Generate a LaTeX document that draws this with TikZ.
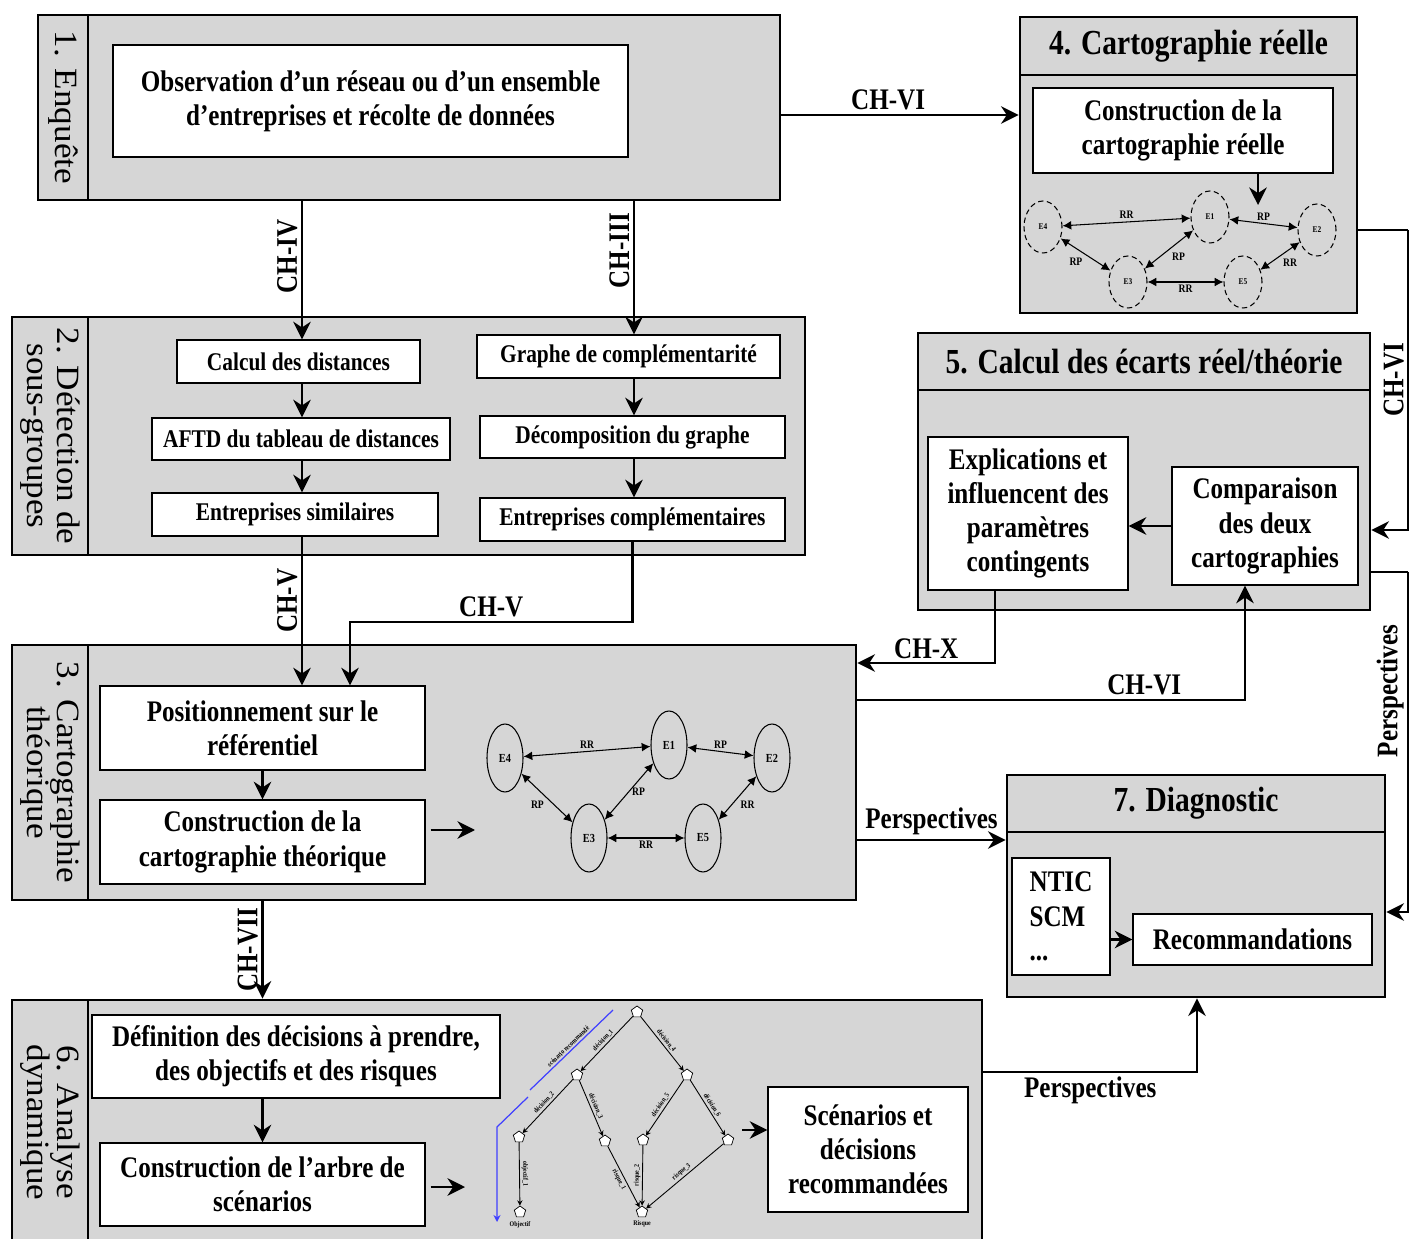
\documentclass[tikz,border=0pt]{standalone}
\usepackage{fontspec}
\setmainfont{Liberation Serif}[FakeStretch=0.84]
\newfontfamily\labfont{Liberation Serif}[FakeStretch=1.08]
\usetikzlibrary{arrows.meta,shapes.geometric}

\newcommand\txtb{\bfseries\fontsize{17}{19.5}\selectfont}
\newcommand\txts{\bfseries\fontsize{14.5}{17}\selectfont}
\newcommand\txtt{\bfseries\fontsize{20}{22}\selectfont}
\newcommand\txtl{\labfont\fontsize{18.5}{17}\selectfont}

\begin{document}
\begin{tikzpicture}[x=0.02cm, y=-0.02cm,
	wh/.style 2 args={minimum width=#1*0.02cm, minimum height=#2*0.02cm},
	stage/.style={draw, line width=1.6pt, fill=black!16, inner sep=0pt},
	sidelab/.style={stage, rotate=-90, align=center, font=\txtl},
	titlebox/.style={stage, font=\txtt},
	wbox/.style={draw, line width=0.8pt, fill=white, inner sep=0pt, align=center, font=\txtb},
	sbox/.style={wbox, font=\txts},
	conn/.style={line width=1.3pt, -{Stealth[length=10pt, width=10pt]}},
	wire/.style={line width=1.3pt},
	chlab/.style={font=\txtb, inner sep=2pt},
	ent/.style={ellipse, draw, line width=0.6pt, inner sep=0pt, font=\bfseries\fontsize{7}{7}\selectfont},
	rel/.style={line width=0.6pt, {Latex[length=5pt, width=5pt]}-{Latex[length=5pt, width=5pt]}},
	rlab/.style={font=\bfseries\fontsize{6.5}{6.5}\selectfont, inner sep=1.5pt},
	tnode/.style={regular polygon, regular polygon sides=5, draw, fill=white, line width=0.4pt, minimum size=12*0.02cm, inner sep=0pt},
	tedge/.style={line width=0.5pt, -{Stealth[length=3pt, width=3pt]}},
	tlab/.style={font=\bfseries\fontsize{4}{4}\selectfont, sloped, inner sep=1pt}]
	\fill[white] (0,0) rectangle (1410,1239);
	\useasboundingbox (0,0) rectangle (1410,1239);

	% 1. Enquete
	\node[sidelab, wh={185}{50}] (lab1) at (63,107.5) {1. Enquête};
	\node[stage, wh={692}{185}] (st1) at (434,107.5) {};
	\node[wbox, wh={515}{112}] (obs) at (370.5,101) {Observation d'un réseau ou d'un ensemble\\d’entreprises et récolte de données};

	% 2. Detection de sous-groupes
	\node[sidelab, wh={238}{76}] (lab2) at (50,436) {2. Détection de\\sous-groupes};
	\node[stage, wh={717}{238}] (st2) at (446.5,436) {};
	\node[sbox, wh={243}{43}] (dist) at (298.5,361.5) {Calcul des distances};
	\node[sbox, wh={298}{42}] (aftd) at (301,439) {AFTD du tableau de distances};
	\node[sbox, wh={286}{43}] (simil) at (295,514.5) {Entreprises similaires};
	\node[sbox, wh={303}{43}] (graphe) at (628.5,356.5) {Graphe de complémentarité};
	\node[sbox, wh={305}{42}] (decomp) at (632.5,437) {Décomposition du graphe};
	\node[sbox, wh={305}{43}] (compl) at (632.5,519.5) {Entreprises complémentaires};

	% 3. Cartographie theorique
	\node[sidelab, wh={255}{76}] (lab3) at (50,772.5) {3. Cartographie\\théorique};
	\node[stage, wh={768}{255}] (st3) at (472,772.5) {};
	\node[wbox, wh={325}{84}] (pos) at (262.5,728) {Positionnement sur le\\référentiel};
	\node[wbox, wh={325}{84}] (cons3) at (262.5,842) {Construction de la\\cartographie théorique};
	\node[ent, wh={36}{68}] (e4) at (505,758) {E4};
	\node[ent, wh={36}{68}] (e1) at (669,745) {E1};
	\node[ent, wh={36}{68}] (e2) at (772,758) {E2};
	\node[ent, wh={36}{68}] (e3) at (589,838) {E3};
	\node[ent, wh={36}{68}] (e5) at (703,838) {E5};
	\coordinate (g3in) at (475,830);

	% 4. Cartographie reelle
	\node[titlebox, wh={337}{58}] (t4) at (1188.5,46) {4. Cartographie réelle};
	\node[stage, wh={337}{238}] (st4) at (1188.5,194) {};
	\node[wbox, wh={300}{85}] (cons4) at (1183,130.5) {Construction de la\\cartographie réelle};
	\node[ent, densely dashed, wh={38}{52}, font=\bfseries\fontsize{5}{5}\selectfont] (r4) at (1043,227) {E4};
	\node[ent, densely dashed, wh={38}{52}, font=\bfseries\fontsize{5}{5}\selectfont] (r1) at (1210,217) {E1};
	\node[ent, densely dashed, wh={38}{52}, font=\bfseries\fontsize{5}{5}\selectfont] (r2) at (1317,230) {E2};
	\node[ent, densely dashed, wh={38}{52}, font=\bfseries\fontsize{5}{5}\selectfont] (r3) at (1128,282) {E3};
	\node[ent, densely dashed, wh={38}{52}, font=\bfseries\fontsize{5}{5}\selectfont] (r5) at (1243,282) {E5};
	\coordinate (g4in) at (1258,205);

	% 5. Calcul des ecarts
	\node[titlebox, wh={452}{57}] (t5) at (1144,361.5) {5. Calcul des écarts réel/théorie};
	\node[stage, wh={452}{220}] (st5) at (1144,500) {};
	\node[wbox, wh={200}{153}] (expl) at (1028,513.5) {Explications et\\influencent des\\paramètres\\contingents};
	\node[wbox, wh={186}{118}] (comp) at (1265,526) {Comparaison\\des deux\\cartographies};

	% 7. Diagnostic
	\node[titlebox, wh={378}{57}] (t7) at (1196,803.5) {7. Diagnostic};
	\node[stage, wh={378}{165}] (st7) at (1196,914.5) {};
	\node[wbox, wh={98}{117}, align=left] (ntic) at (1061,916.5) {NTIC\\SCM\\...};
	\node[wbox, wh={239}{51}] (reco) at (1252.5,939.5) {Recommandations};

	% 6. Analyse dynamique
	\node[sidelab, wh={245}{76}] (lab6) at (50,1122.5) {6. Analyse\\dynamique};
	\node[stage, wh={894}{245}] (st6) at (535,1122.5) {};
	\node[wbox, wh={408}{83}] (defi) at (296,1056.5) {Définition des décisions à prendre,\\des objectifs et des risques};
	\node[wbox, wh={325}{83}] (arbre) at (262.5,1184.5) {Construction de l'arbre de\\scénarios};
	\node[wbox, wh={200}{125}] (scen) at (868,1149.5) {Scénarios et\\décisions\\recommandées};
	\node[tnode] (a1) at (637,1012) {};
	\node[tnode] (a2) at (577,1075) {};
	\node[tnode] (a3) at (519,1137) {};
	\node[tnode] (a4) at (520,1212) {};
	\node[tnode] (a5) at (605,1141) {};
	\node[tnode] (a6) at (687,1075) {};
	\node[tnode] (a7) at (643,1140) {};
	\node[tnode] (a8) at (728,1140) {};
	\node[tnode] (a9) at (642,1212) {};
	\node[tlab, below=1pt] (obj) at (a4.south) {Objectif};
	\node[tlab, below=1pt] (risq) at (a9.south) {Risque};
	\coordinate (g6in) at (465,1187);
	\coordinate (b1) at (613,1010);
	\coordinate (b2) at (530,1090);
	\coordinate (b3) at (528,1097);
	\coordinate (b4) at (497,1127);
	\coordinate (b5) at (497,1222);

	% connecteurs
	\coordinate (cv) at (350,622);
	\coordinate (chx) at (995,663);
	\coordinate (c6) at (1245,700);
	\coordinate (p7) at (930,840);
	\coordinate (p6) at (1197,1072);
	\coordinate (ra) at (1408,230);
	\coordinate (rb) at (1408,530);
	\coordinate (rc) at (1408,572);
	\coordinate (rd) at (1408,912);
	\coordinate (s6) at (742,1130);
	\coordinate (o6) at (780,115);
	\coordinate (gx) at (302,0);
	\coordinate (dx) at (634,0);

	\draw[conn] (o6 -| st1.east) -- node[chlab, above, pos=.45] {CH-VI} (o6 -| st4.west);
	\draw[conn] (gx |- st1.south) -- node[chlab, rotate=90, anchor=south, pos=.4] {CH-IV} (gx |- dist.north);
	\draw[conn] (dx |- st1.south) -- node[chlab, rotate=90, anchor=south, pos=.37] {CH-III} (dx |- graphe.north);
	\draw[conn] (gx |- dist.south) -- (gx |- aftd.north);
	\draw[conn] (gx |- aftd.south) -- (gx |- simil.north);
	\draw[conn] (dx |- graphe.south) -- (dx |- decomp.north);
	\draw[conn] (dx |- decomp.south) -- (dx |- compl.north);
	\draw[conn] (gx |- simil.south) -- node[chlab, rotate=90, anchor=south, pos=.43] {CH-V} (gx |- pos.north);
	\draw[conn] (compl.south) -- (compl.south |- cv) -- node[chlab, above] {CH-V} (cv) -- (cv |- pos.north);
	\draw[conn] (pos) -- (cons3);
	\draw[conn] ([xshift=0.1cm]cons3.east |- g3in) -- (g3in);
	\draw[conn] (st3.south -| arbre.north) -- node[chlab, rotate=90, anchor=south] {CH-VII} (st6.north -| arbre.north);
	\draw[conn] (defi.south -| arbre.north) -- (arbre.north);
	\draw[conn] ([xshift=0.1cm]arbre.east |- g6in) -- (g6in);
	\draw[conn] (s6) -- (s6 -| scen.west);
	\draw[conn] (cons4.south -| g4in) -- (g4in);
	\draw[conn] (comp.west) -- (comp.west -| expl.east);
	\draw[conn] (chx |- expl.south) -- (chx) -- node[chlab, above] {CH-X} (chx -| st3.east);
	\draw[conn] (c6 -| st3.east) -- node[chlab, above, pos=.74] {CH-VI} (c6) -- (c6 |- comp.south);
	\draw[conn] (p7 -| st3.east) -- node[chlab, above] {Perspectives} (p7 -| st7.west);
	\draw[conn] (p6 -| st6.east) -- node[chlab, below] {Perspectives} (p6) -- (p6 |- st7.south);
	\draw[conn] (ntic.east |- reco.west) -- (reco.west);
	\draw[wire] (ra -| st4.east) -- (ra);
	\draw[conn, line width=0.8pt] (ra) -- node[chlab, rotate=90, anchor=south] {CH-VI} (rb) -- (rb -| st5.east);
	\draw[wire] (rc -| st5.east) -- (rc);
	\draw[conn, line width=0.8pt] (rc) -- node[chlab, rotate=90, anchor=south, pos=.35] {Perspectives} (rd) -- (rd -| st7.east);

	% graphes E
	\draw[rel] (e4) -- node[rlab, above] {RR} (e1);
	\draw[rel] (e1) -- node[rlab, above] {RP} (e2);
	\draw[rel] (e1) -- node[rlab, right] {RP} (e3);
	\draw[rel] (e4) -- node[rlab, below left] {RP} (e3);
	\draw[rel] (e2) -- node[rlab, below right] {RR} (e5);
	\draw[rel] (e3) -- node[rlab, below] {RR} (e5);
	\draw[rel] (r4) -- node[rlab, above] {RR} (r1);
	\draw[rel] (r1) -- node[rlab, above] {RP} (r2);
	\draw[rel] (r1) -- node[rlab, below right] {RP} (r3);
	\draw[rel] (r4) -- node[rlab, below left] {RP} (r3);
	\draw[rel] (r2) -- node[rlab, below right] {RR} (r5);
	\draw[rel] (r3) -- node[rlab, below] {RR} (r5);

	% arbre de scenarios
	\draw[tedge] (a1) -- node[tlab, above] {décision\_1} (a2);
	\draw[tedge] (a2) -- node[tlab, above] {décision\_2} (a3);
	\draw[tedge] (a3) -- node[tlab, above] {objectif\_1} (a4);
	\draw[tedge] (a2) -- node[tlab, above] {décision\_3} (a5);
	\draw[tedge] (a5) -- node[tlab, below] {risque\_1} (a9);
	\draw[tedge] (a1) -- node[tlab, above] {décision\_4} (a6);
	\draw[tedge] (a6) -- node[tlab, above] {décision\_5} (a7);
	\draw[tedge] (a7) -- node[tlab, above] {risque\_2} (a9);
	\draw[tedge] (a6) -- node[tlab, above] {décision\_6} (a8);
	\draw[tedge] (a8) -- node[tlab, above] {risque\_3} (a9);
	\draw[blue!75, line width=0.7pt] (b1) -- node[tlab, above, text=black] {scénario recommandé} (b2);
	\draw[blue!75, line width=0.7pt, -{Stealth[length=4pt, width=4pt]}] (b3) -- (b4) -- (b5);
\end{tikzpicture}
\end{document}
